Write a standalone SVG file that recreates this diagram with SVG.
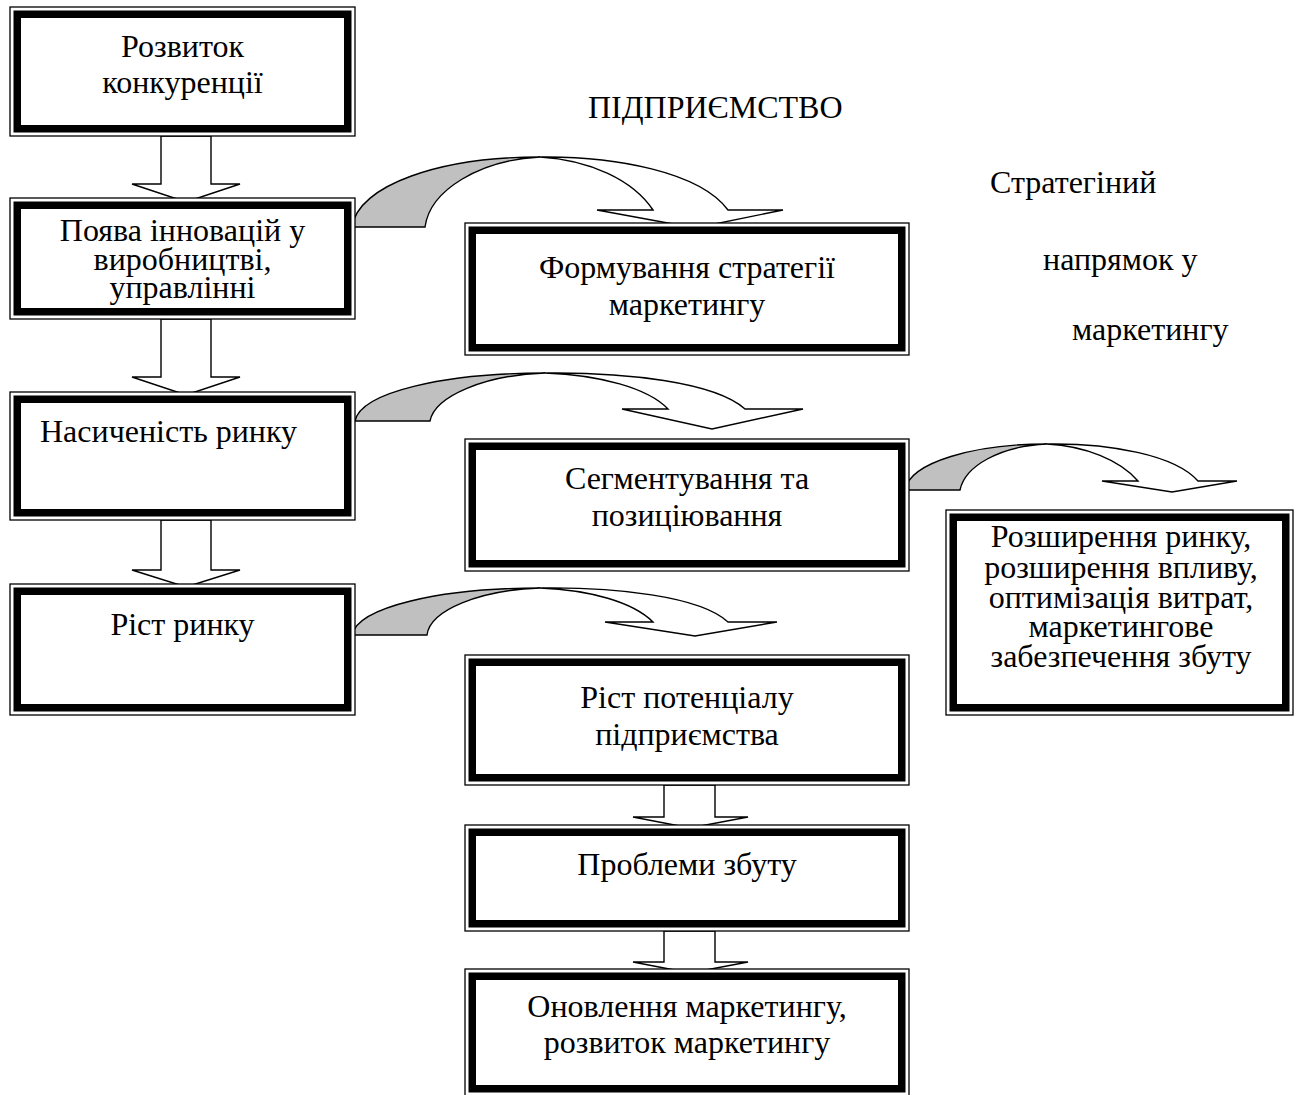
<svg xmlns="http://www.w3.org/2000/svg" width="1298" height="1095" viewBox="0 0 1298 1095">
  <style>
    .frame-outer { fill: #ffffff; stroke: #000000; stroke-width: 1.3; }
    .frame-inner { fill: none; stroke: #000000; stroke-width: 7.5; }
    .label { font-family: "Liberation Serif", "Times New Roman", serif; font-size: 32px; fill: #000000; }
    .mid { text-anchor: middle; }
    .block { fill: #ffffff; stroke: #000000; stroke-width: 1.4; stroke-linejoin: miter; }
    .shade { fill: #c0c0c0; stroke: #000000; stroke-width: 1.4; }
  </style>
  <rect width="1298" height="1095" fill="#ffffff"/>

  <!-- connectors: straight block arrows and curved ribbon arrows -->
  <g id="connectors">
    <polygon class="block" points="161,136 161,184 132,184 186,202 240,184 211,184 211,136"/>
    <polygon class="block" points="161,319 161,377 132,377 186,395 240,377 211,377 211,319"/>
    <polygon class="block" points="161,520 161,570 132,570 186,587 240,570 211,570 211,520"/>
    <polygon class="block" points="664,785 664,817 633,817 690,828 748,817 715,817 715,785"/>
    <polygon class="block" points="664,931 664,962 633,962 690,973 748,962 715,962 715,931"/>

    <!-- Поява інновацій -> Формування стратегії -->
    <path class="shade" d="M352,227 C358,185 440,157 540,157 C480,160 430,190 425,227 Z"/>
    <path class="block" d="M540,157 C615,156 700,172 728,210 L783,210 L695,228 L597,210 L653,210 C633,180 590,160 540,157 Z"/>

    <!-- Насиченість ринку -> Сегментування -->
    <path class="shade" d="M355,421 C361,392 445,373 545,373 C485,375 435,396 430,421 Z"/>
    <path class="block" d="M545,373 C625,372 715,382 745,409 L803,409 L712,429 L622,409 L668,409 C648,388 600,375 545,373 Z"/>

    <!-- Сегментування -> Розширення ринку -->
    <path class="shade" d="M905,490 C910,462 975,444 1047,444 C1000,446 965,466 960,490 Z"/>
    <path class="block" d="M1047,444 C1110,443 1175,455 1198,481 L1237,481 L1172,492 L1102,481 L1138,481 C1120,460 1085,446 1047,444 Z"/>

    <!-- Ріст ринку -> Ріст потенціалу -->
    <path class="shade" d="M352,635 C358,607 440,588 540,588 C480,590 430,610 427,635 Z"/>
    <path class="block" d="M540,588 C615,587 700,596 728,622 L777,622 L695,636 L605,622 L653,622 C633,602 590,590 540,588 Z"/>
  </g>

  <!-- free-standing headings -->
  <text class="label" x="588" y="118">ПІДПРИЄМСТВО</text>
  <text class="label" x="990" y="193">Стратегіний</text>
  <text class="label" x="1043" y="270">напрямок у</text>
  <text class="label" x="1072" y="340">маркетингу</text>

  <g id="node-competition">
    <rect class="frame-outer" x="10" y="7" width="345" height="129"/>
    <rect class="frame-inner" x="17.25" y="14.25" width="330.5" height="114.5"/>
    <text class="label mid" x="182.5" y="57">Розвиток</text>
    <text class="label mid" x="182.5" y="93">конкуренції</text>
  </g>

  <g id="node-innovation">
    <rect class="frame-outer" x="10" y="198" width="345" height="121"/>
    <rect class="frame-inner" x="17.25" y="205.25" width="330.5" height="106.5"/>
    <text class="label mid" x="182.5" y="241">Поява інновацій у</text>
    <text class="label mid" x="182.5" y="269.5">виробництві,</text>
    <text class="label mid" x="182.5" y="298">управлінні</text>
  </g>

  <g id="node-saturation">
    <rect class="frame-outer" x="10" y="392" width="345" height="128"/>
    <rect class="frame-inner" x="17.25" y="399.25" width="330.5" height="113.5"/>
    <text class="label" x="40" y="442">Насиченість ринку</text>
  </g>

  <g id="node-market-growth">
    <rect class="frame-outer" x="10" y="584" width="345" height="131"/>
    <rect class="frame-inner" x="17.25" y="591.25" width="330.5" height="116.5"/>
    <text class="label mid" x="182.5" y="635">Ріст ринку</text>
  </g>

  <g id="node-strategy">
    <rect class="frame-outer" x="465" y="223" width="444" height="132"/>
    <rect class="frame-inner" x="472.25" y="230.25" width="429.5" height="117.5"/>
    <text class="label mid" x="687" y="278">Формування стратегії</text>
    <text class="label mid" x="687" y="315">маркетингу</text>
  </g>

  <g id="node-segmentation">
    <rect class="frame-outer" x="465" y="439" width="444" height="132"/>
    <rect class="frame-inner" x="472.25" y="446.25" width="429.5" height="117.5"/>
    <text class="label mid" x="687" y="489">Сегментування та</text>
    <text class="label mid" x="687" y="526">позиціювання</text>
  </g>

  <g id="node-potential">
    <rect class="frame-outer" x="465" y="655" width="444" height="130"/>
    <rect class="frame-inner" x="472.25" y="662.25" width="429.5" height="115.5"/>
    <text class="label mid" x="687" y="708">Ріст потенціалу</text>
    <text class="label mid" x="687" y="745">підприємства</text>
  </g>

  <g id="node-sales-problems">
    <rect class="frame-outer" x="465" y="825" width="444" height="106"/>
    <rect class="frame-inner" x="472.25" y="832.25" width="429.5" height="91.5"/>
    <text class="label mid" x="687" y="875">Проблеми збуту</text>
  </g>

  <g id="node-renewal">
    <rect class="frame-outer" x="465" y="969" width="444" height="127"/>
    <rect class="frame-inner" x="472.25" y="976.25" width="429.5" height="112.5"/>
    <text class="label mid" x="687" y="1017">Оновлення маркетингу,</text>
    <text class="label mid" x="687" y="1053">розвиток маркетингу</text>
  </g>

  <g id="node-expansion">
    <rect class="frame-outer" x="946" y="510" width="347" height="205"/>
    <rect class="frame-inner" x="953.25" y="517.25" width="332.5" height="190.5"/>
    <text class="label mid" x="1121" y="547">Розширення ринку,</text>
    <text class="label mid" x="1121" y="578">розширення впливу,</text>
    <text class="label mid" x="1121" y="608">оптимізація витрат,</text>
    <text class="label mid" x="1121" y="637">маркетингове</text>
    <text class="label mid" x="1121" y="667">забезпечення збуту</text>
  </g>
</svg>
